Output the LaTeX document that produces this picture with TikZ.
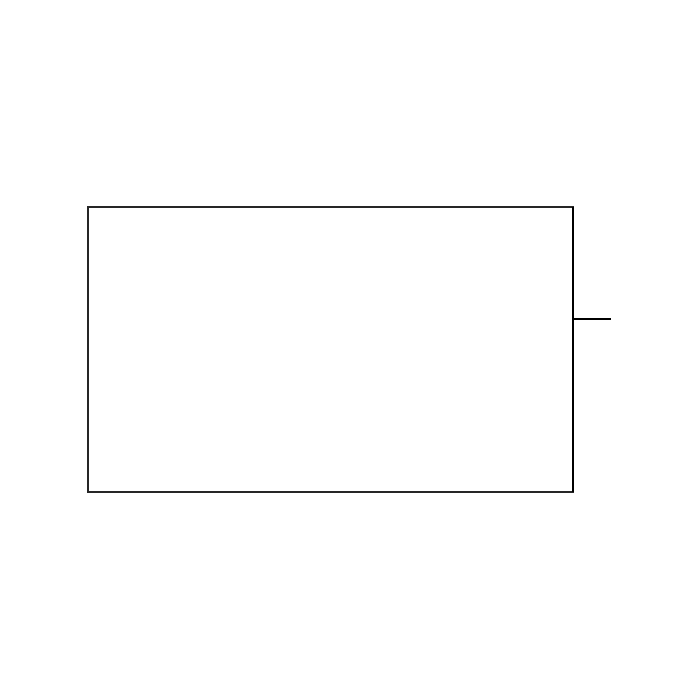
\documentclass[tikz,border=0pt]{standalone}
\begin{document}
\begin{tikzpicture}[x=0.01cm,y=-0.01cm,
  boxstyle/.style={draw=black!85, line width=0.4pt, minimum width=4.85cm, minimum height=2.85cm, inner sep=0pt, outer sep=0pt, anchor=north west},
  edgestyle/.style={draw=black, line width=0.55pt},
  wirestyle/.style={draw=black, line width=0.6pt}]
\useasboundingbox (0,0) rectangle (700,700);
\node[boxstyle] (box) at (88,207) {};
\draw[edgestyle] (box.north east) -- (box.south east);
\coordinate (port) at (573,319);
\coordinate (wireend) at (611,319);
\draw[wirestyle] (port) -- (wireend);
\end{tikzpicture}
\end{document}
